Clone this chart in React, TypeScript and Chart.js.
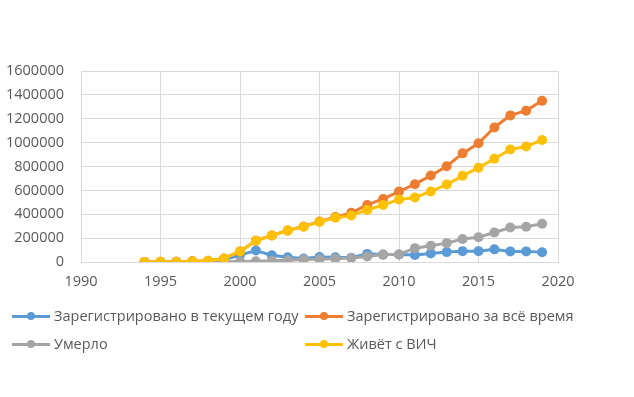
import React, { useEffect, useRef } from "react";
import { Chart, registerables } from "chart.js";

Chart.register(...registerables);

// ---- data ----
const years = [
  1994, 1995, 1996, 1997, 1998, 1999, 2000, 2001, 2002, 2003, 2004, 2005, 2006,
  2007, 2008, 2009, 2010, 2011, 2012, 2013, 2014, 2015, 2016, 2017, 2018, 2019,
];
const registeredThisYear = [
  200, 200, 1500, 4300, 3900, 19000, 58000, 96000, 56000, 40000, 30000, 41000, 40000,
  36000, 68000, 62000, 63000, 59000, 72000, 83000, 91000, 91000, 106000, 89000, 89000, 82000,
];
const registeredTotal = [
  1000, 1200, 2700, 7000, 11000, 30000, 89000, 179000, 223000, 264000, 298000, 339000, 376000,
  412000, 478000, 528000, 590000, 652000, 724000, 802000, 910000, 995000, 1127000, 1228000, 1268000, 1350000,
];
const died = [
  200, 300, 400, 600, 1000, 2000, 4000, 7000, 10000, 14000, 20000, 22000, 27000,
  33000, 46000, 62000, 63000, 116000, 136000, 158000, 192000, 208000, 247000, 289000, 295000, 320000,
];
const livingWithHiv = [
  1000, 1100, 2500, 6500, 10000, 29000, 88000, 178000, 222000, 263000, 296000, 336000, 371000,
  390000, 436000, 477000, 524000, 540000, 591000, 649000, 722000, 790000, 865000, 942000, 967000, 1022000,
];
const seriesNames = [
  "Зарегистрировано в текущем году",
  "Зарегистрировано за всё время",
  "Умерло",
  "Живёт с ВИЧ",
];
const seriesValues = [registeredThisYear, registeredTotal, died, livingWithHiv];
const seriesColors = ["#5B9BD5", "#ED7D31", "#A5A5A5", "#FFC000"];
const xMin = 1990;
const xMax = 2020;
const xStep = 5;
const yMin = 0;
const yMax = 1600000;
const yStep = 200000;

const FONT = "'Open Sans', 'Noto Sans', sans-serif";
const TEXT_COLOR = "#595959";
const GRID_COLOR = "#D9D9D9";

function LegendItem({ name, color, left, top }: { name: string; color: string; left: number; top: number }) {
  return (
    <div
      style={{
        position: "absolute",
        left,
        top: top - 10,
        height: 20,
        display: "flex",
        alignItems: "center",
        whiteSpace: "nowrap",
      }}
    >
      <div style={{ position: "relative", width: 38, height: 20, marginRight: 4 }}>
        <div
          style={{
            position: "absolute",
            left: 0,
            top: 8.5,
            width: 38,
            height: 3,
            background: color,
          }}
        />
        <div
          style={{
            position: "absolute",
            left: 15,
            top: 6,
            width: 8,
            height: 8,
            borderRadius: 4,
            background: color,
          }}
        />
      </div>
      <span style={{ font: `14.5px ${FONT}`, color: TEXT_COLOR, lineHeight: "20px" }}>{name}</span>
    </div>
  );
}

export default function App() {
  const canvasRef = useRef<HTMLCanvasElement | null>(null);

  useEffect(() => {
    const canvas = canvasRef.current;
    if (!canvas) return;
    const chart = new Chart(canvas, {
      type: "line",
      data: {
        datasets: seriesNames.map((name, i) => ({
          label: name,
          data: years.map((yr, j) => ({ x: yr, y: seriesValues[i][j] })),
          borderColor: seriesColors[i],
          backgroundColor: seriesColors[i],
          borderWidth: 3,
          pointRadius: 5,
          pointHoverRadius: 5,
          pointBorderWidth: 0,
          tension: 0,
          fill: false,
          // later series are drawn on top, as in the reference
          order: seriesNames.length - 1 - i,
        })),
      },
      options: {
        animation: false,
        responsive: false,
        devicePixelRatio: 1,
        layout: { padding: { left: 5, top: 71, right: 76, bottom: 103 } },
        plugins: {
          legend: { display: false },
          tooltip: { enabled: false },
          title: { display: false },
        },
        scales: {
          x: {
            type: "linear",
            min: xMin,
            max: xMax,
            afterFit: (scale: any) => {
              scale.height = 32;
            },
            ticks: {
              stepSize: xStep,
              padding: 11,
              maxRotation: 0,
              color: TEXT_COLOR,
              font: { family: FONT, size: 14.5 },
              callback: (v: any) => String(v),
            },
            grid: { color: GRID_COLOR, drawTicks: false, lineWidth: 1 },
            border: { color: GRID_COLOR },
          },
          y: {
            min: yMin,
            max: yMax,
            afterFit: (scale: any) => {
              scale.width = 76;
            },
            ticks: {
              stepSize: yStep,
              padding: 17,
              color: TEXT_COLOR,
              font: { family: FONT, size: 14.5 },
              callback: (v: any) => String(v),
            },
            grid: { color: GRID_COLOR, drawTicks: false, lineWidth: 1 },
            border: { color: GRID_COLOR },
          },
        },
      },
    });
    return () => chart.destroy();
  }, []);

  return (
    <div
      style={{
        position: "fixed",
        left: 0,
        top: 0,
        width: 634,
        height: 397,
        background: "#ffffff",
        overflow: "hidden",
      }}
    >
      <canvas ref={canvasRef} width={634} height={397} style={{ position: "absolute", left: 0, top: 0 }} />
      <LegendItem name={seriesNames[0]} color={seriesColors[0]} left={12} top={316} />
      <LegendItem name={seriesNames[1]} color={seriesColors[1]} left={305} top={316} />
      <LegendItem name={seriesNames[2]} color={seriesColors[2]} left={12} top={344} />
      <LegendItem name={seriesNames[3]} color={seriesColors[3]} left={305} top={344} />
    </div>
  );
}
